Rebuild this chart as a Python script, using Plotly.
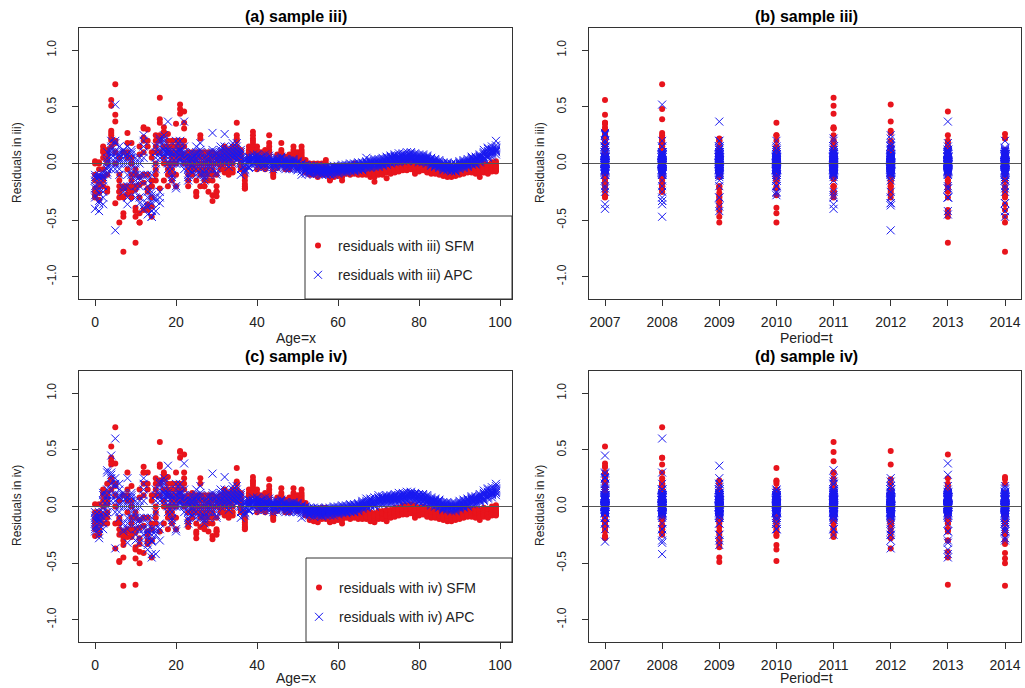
import plotly.graph_objects as go

# ---------------- data ----------------
ages = list(range(100))
years = [2007, 2008, 2009, 2010, 2011, 2012, 2013, 2014]
age_ticks = [0, 20, 40, 60, 80, 100]
res_ticks = [-1.0, -0.5, 0.0, 0.5, 1.0]
res_tick_text = ["-1.0", "-0.5", "0.0", "0.5", "1.0"]

# residuals[age][year]  (years 2007..2014)
sfm_iii = [
 [.02,-.15,-.30,-.22,-.10,-.25,.00,-.28],
 [-.20,.00,-.32,-.12,-.26,-.05,-.18,.01],
 [.15,.10,-.12,-.15,.05,-.20,.12,-.05],
 [.10,-.22,.02,.12,-.25,.05,-.10,.00],
 [.56,.27,.20,.15,.51,.29,.25,.22],
 [.43,.70,-.35,.20,.10,.37,.18,.00],
 [-.30,-.25,-.20,-.52,-.25,.05,-.15,-.10],
 [-.29,-.22,-.47,-.44,-.20,.10,-.30,-.78],
 [.27,.18,-.22,-.05,.10,-.27,-.20,.05],
 [-.20,.18,.00,-.10,-.30,-.15,.05,-.25],
 [-.10,-.05,-.42,-.39,-.20,-.23,-.70,-.47],
 [-.19,-.12,-.52,.15,.08,-.30,-.44,-.52],
 [.32,.23,.20,-.10,.31,-.17,.10,-.41],
 [.30,.20,-.10,-.22,-.25,.15,-.41,-.36],
 [-.15,-.20,-.38,.05,.10,-.20,-.47,-.30],
 [.25,.20,.10,-.05,-.10,.00,.15,-.15],
 [.36,.39,.22,.25,.58,.20,.10,-.22],
 [.28,.25,.15,.00,.32,.27,-.15,.05],
 [.15,.00,-.10,-.20,.20,.10,-.05,.26],
 [.20,.10,-.10,-.05,.00,.15,.05,-.15],
 [.35,.15,.05,-.10,.20,.00,.10,-.20],
 [.15,.48,.10,.05,.44,.52,.20,.10],
 [.36,.20,.08,.00,.31,.15,.46,.05],
 [-.20,.10,.00,.05,-.10,-.05,.08,-.15],
 [.05,-.05,.10,.00,-.10,.02,-.02,.08],
 [-.29,-.25,-.26,-.15,-.05,.10,.05,.00],
 [.25,.22,.10,-.10,-.20,.00,.05,-.05],
 [-.20,-.20,.00,.10,-.10,.05,-.05,-.15],
 [.10,.05,-.10,-.15,-.25,.00,-.05,.02],
 [-.15,-.10,-.33,-.28,.05,.10,.00,-.05],
 [-.25,-.20,-.29,.05,.00,.08,-.25,-.10],
 [.05,.00,-.05,.10,.08,-.02,.03,.06],
 [.10,.05,.00,-.08,.15,.12,-.05,.02],
 [.05,-.10,.08,.00,.12,-.05,.10,.03],
 [-.05,.10,.05,.12,-.08,.00,.15,.08],
 [.20,.15,.10,.36,.25,.12,.05,.22],
 [.05,.10,-.05,.00,.08,.12,.02,-.03],
 [-.22,-.18,-.20,-.10,-.05,-.15,-.22,-.12],
 [.10,.15,.05,.12,.08,.02,.10,.06],
 [.28,.22,.20,.25,.18,.15,.10,.12],
 [.15,.10,.05,.12,.08,.00,.02,-.05],
 [.05,.08,.00,-.03,.10,.04,-.02,.06],
 [.10,.05,.00,-.05,.08,.12,.03,-.02],
 [.25,.18,.12,.08,.15,.05,.02,.10],
 [-.12,-.10,-.05,-.08,.00,-.03,-.06,.02],
 [.05,.03,-.02,.08,.00,-.04,.06,.02],
 [.18,.12,.08,.05,.10,.02,.00,.04],
 [.00,-.05,.03,.06,-.02,.04,-.03,.01],
 [.08,.02,-.03,.05,.00,-.05,.03,.06],
 [.15,.10,.06,.12,.08,.03,.05,.00],
 [.05,.00,-.02,.08,.10,.03,-.04,.06],
 [.15,.12,.08,.05,.10,.06,.03,.00],
 [.00,-.05,-.08,-.02,.03,-.06,-.03,.01],
 [-.05,-.08,-.10,-.03,.00,-.06,-.04,-.02],
 [-.03,-.06,.00,-.08,-.04,-.10,-.02,-.05],
 [.00,-.05,-.10,-.08,-.03,-.12,-.06,-.02],
 [-.02,-.06,-.04,-.10,-.08,-.03,-.05,.00],
 [.03,-.04,-.08,-.06,-.10,-.02,-.05,.00],
 [-.15,-.12,-.10,-.08,-.14,-.06,-.11,-.05],
 [-.05,-.08,-.10,-.03,-.06,-.12,-.04,-.02],
 [-.04,-.07,-.02,-.09,-.05,-.11,-.03,-.06],
 [-.15,-.12,-.08,-.10,-.05,-.03,-.07,-.09],
 [-.02,-.06,-.09,-.04,-.08,-.05,-.03,-.07],
 [-.05,-.08,-.04,-.06,-.10,-.03,-.07,-.02],
 [.00,-.04,-.07,-.03,-.06,-.09,-.05,-.02],
 [-.08,-.05,-.10,-.06,-.03,-.07,-.04,-.09],
 [-.03,-.06,-.04,-.08,-.05,-.02,-.07,-.10],
 [-.06,-.09,-.03,-.07,-.05,-.10,-.04,-.08],
 [-.10,-.07,-.05,-.08,-.12,-.06,-.09,-.04],
 [-.16,-.08,-.10,-.06,-.12,-.09,-.05,-.07],
 [-.05,-.08,-.03,-.10,-.06,-.09,-.07,-.04],
 [-.07,-.04,-.09,-.06,-.03,-.08,-.05,-.10],
 [-.03,-.06,-.08,-.13,-.05,-.04,-.07,-.02],
 [-.04,-.07,-.02,-.05,-.08,-.03,-.06,-.09],
 [-.02,-.05,-.03,-.07,-.04,.00,-.06,-.08],
 [-.03,.00,-.05,-.02,-.06,-.04,-.01,-.07],
 [.00,-.03,-.05,-.02,.02,-.04,-.06,-.01],
 [-.02,.02,-.04,-.01,-.05,.00,-.03,-.06],
 [.01,-.03,.03,-.02,-.04,.00,-.05,-.01],
 [-.04,.00,-.07,-.02,-.05,.02,-.03,-.09],
 [-.02,-.05,.00,-.03,-.06,-.01,-.04,-.07],
 [-.03,.01,-.05,-.02,-.04,.00,-.06,-.01],
 [-.05,-.02,-.07,-.04,.00,-.03,-.06,-.08],
 [-.06,-.03,-.08,-.05,-.02,-.07,-.04,-.09],
 [-.04,-.07,-.02,-.05,-.09,-.03,-.06,-.08],
 [-.08,-.05,-.10,-.06,-.03,-.09,-.07,-.04],
 [-.07,-.10,-.05,-.08,-.06,-.11,-.04,-.09],
 [-.09,-.06,-.11,-.08,-.05,-.10,-.07,-.12],
 [-.10,-.07,-.12,-.08,-.05,-.09,-.11,-.06],
 [-.06,-.09,-.04,-.08,-.11,-.05,-.07,-.10],
 [-.05,-.08,-.03,-.07,-.10,-.04,-.06,-.09],
 [-.04,-.07,-.02,-.06,-.09,-.03,-.05,-.08],
 [-.03,-.06,-.01,-.05,-.08,-.02,-.04,-.07],
 [-.05,-.02,-.07,-.04,-.01,-.06,-.03,-.08],
 [-.06,-.03,-.08,-.02,-.05,-.09,-.04,-.01],
 [-.04,-.07,-.02,-.12,-.05,-.03,-.06,-.08],
 [-.03,-.06,.00,-.04,-.08,-.02,-.05,-.07],
 [-.05,-.02,-.08,-.04,-.07,-.01,-.06,-.09],
 [-.02,-.05,.01,-.03,-.06,-.04,-.01,-.07],
 [-.04,.00,-.06,-.02,-.05,.02,-.03,-.07],
]

apc_iii = [
 [-.40,-.10,-.30,-.20,-.28,-.12,-.22,-.15],
 [-.22,-.33,-.12,-.26,-.15,-.35,-.10,-.42],
 [-.36,-.15,-.20,-.10,-.25,-.08,-.30,-.12],
 [.00,-.10,.05,-.05,.02,-.08,.10,-.03],
 [.15,.10,.05,.20,-.05,.00,.12,.08],
 [.18,.52,.10,-.05,.00,-.59,.05,.20],
 [.00,.05,-.10,.08,.15,-.05,.10,.02],
 [.10,-.20,.05,-.25,.00,.12,-.22,.08],
 [.15,-.36,.08,-.10,-.30,.05,-.20,.00],
 [.05,.10,-.15,.00,.08,-.10,.12,-.05],
 [-.10,-.05,-.30,-.15,.05,-.25,.00,-.20],
 [-.15,-.10,.05,-.20,-.12,.00,-.30,-.35],
 [.25,.20,.15,.10,-.40,-.37,.05,-.10],
 [-.20,-.30,-.38,-.10,-.36,-.15,-.45,-.25],
 [-.25,-.47,-.42,-.28,-.10,-.35,-.42,-.47],
 [.05,-.33,.10,-.05,.15,-.30,.00,-.42],
 [.10,-.25,.20,.15,.05,.22,-.30,-.35],
 [.20,.15,.10,.05,.22,.25,.12,.08],
 [.10,.05,.37,.00,.15,-.05,.08,.12],
 [-.10,.05,.00,-.15,.10,-.05,.08,-.12],
 [.20,.10,.05,-.20,.15,.00,.10,-.22],
 [.10,.05,.15,.00,.20,.08,.12,.03],
 [.05,.00,.10,-.05,.08,.15,.37,.02],
 [-.10,.05,.00,-.12,.08,-.05,.03,-.15],
 [.00,-.05,.10,.03,-.08,.05,-.02,.08],
 [.05,.10,-.05,.00,.15,.08,-.10,.03],
 [.18,.10,.05,-.05,.00,.12,.08,-.10],
 [-.10,-.05,.00,-.15,.05,-.08,.02,-.12],
 [.00,.05,-.10,.08,-.05,.03,.10,-.02],
 [.27,.10,.05,.00,.08,-.05,.12,.02],
 [-.05,.00,.08,-.10,.03,.05,-.08,.10],
 [.10,.05,.12,.00,.08,.15,.03,.06],
 [.26,.10,.05,.12,.08,.00,.15,.03],
 [.05,.10,.00,.08,.12,.03,.06,-.03],
 [.15,.08,.12,.05,.10,.18,.00,.06],
 [.10,.15,.05,.12,.08,.03,.18,.06],
 [.02,.08,-.05,.05,.12,.00,.10,-.10],
 [.00,-.05,.03,-.08,.05,-.02,.02,-.06],
 [.02,.05,-.03,.00,.06,-.04,.03,.01],
 [.05,.00,.08,.03,-.02,.06,.01,.04],
 [.04,.07,.00,.03,-.03,.05,.02,.08],
 [.03,-.02,.05,.00,.06,-.04,.02,.01],
 [.06,.02,-.03,.04,.00,.08,-.01,.03],
 [.02,.05,.00,-.04,.03,.07,.01,-.02],
 [.00,-.03,.04,.02,-.05,.01,.03,-.01],
 [.03,.00,-.04,.05,.02,-.02,.04,.01],
 [.01,.04,-.02,.00,.06,-.03,.02,.05],
 [.00,-.03,.03,.01,-.05,.02,-.01,.04],
 [-.02,.01,-.04,.03,.00,-.05,.02,-.01],
 [.01,-.03,.02,-.05,.00,.03,-.02,.04],
 [-.03,.00,-.05,.02,-.02,-.06,.01,-.04],
 [-.05,-.02,-.10,.00,-.04,-.07,-.01,-.03],
 [-.04,-.07,-.02,-.05,-.09,-.03,-.06,-.01],
 [-.06,-.03,-.08,-.05,-.02,-.07,-.04,-.09],
 [-.05,-.08,-.03,-.06,-.10,-.04,-.07,-.02],
 [-.07,-.04,-.09,-.05,-.02,-.08,-.06,-.03],
 [-.06,-.09,-.04,-.07,-.05,-.10,-.03,-.08],
 [-.08,-.05,-.10,-.06,-.03,-.09,-.07,-.04],
 [-.07,-.10,-.05,-.08,-.06,-.04,-.09,-.03],
 [-.06,-.03,-.08,-.05,-.10,-.07,-.04,-.02],
 [-.05,-.08,-.03,-.06,-.09,-.04,-.07,-.02],
 [-.04,-.07,-.02,-.05,-.08,-.03,-.06,-.01],
 [-.05,-.02,-.07,-.04,-.01,-.06,-.03,-.08],
 [-.03,-.06,-.01,-.04,-.07,-.02,-.05,.00],
 [-.04,-.01,-.06,-.03,.00,-.05,-.02,-.07],
 [-.02,-.05,.00,-.03,-.06,-.01,-.04,.01],
 [-.03,.00,-.05,-.02,.01,-.04,-.01,-.06],
 [.00,-.03,.02,-.01,-.04,.05,-.02,.01],
 [-.02,.01,-.04,.00,.03,-.03,.02,-.01],
 [.01,-.02,.03,.00,-.03,.02,-.01,.04],
 [.00,.03,-.02,.01,.04,-.01,.02,-.03],
 [.02,-.01,.04,.01,-.02,.03,.00,.05],
 [.03,.00,.05,.02,-.01,.04,.01,.06],
 [.04,.01,.06,.03,.00,.05,.02,.07],
 [.05,.02,.07,.04,.01,.06,.03,.08],
 [.04,.07,.02,.06,.09,.03,.05,.01],
 [.06,.03,.08,.05,.02,.07,.04,.09],
 [.05,.08,.03,.07,.10,.04,.06,.02],
 [.07,.04,.09,.06,.03,.08,.05,.10],
 [.06,.09,.04,.07,.02,.08,.05,.03],
 [.05,.02,.07,.04,.08,.03,.06,.01],
 [.04,.07,.02,.05,.01,.06,.03,.08],
 [.03,.06,.01,.04,.07,.00,.05,.02],
 [.02,-.01,.04,.01,.05,-.02,.03,.00],
 [.01,-.02,.03,.00,-.03,.02,-.01,.04],
 [-.01,.02,-.03,.00,-.04,.01,-.02,.03],
 [-.02,-.05,.00,-.03,.01,-.04,-.01,-.06],
 [-.03,.00,-.05,-.02,-.06,-.01,-.04,.01],
 [-.04,-.01,-.06,-.03,-.07,-.02,-.05,.00],
 [-.03,-.06,-.01,-.04,.00,-.05,-.02,-.07],
 [-.02,.01,-.04,-.01,-.05,.00,-.03,.02],
 [.00,-.03,.02,-.01,.03,-.02,.01,-.04],
 [.01,-.02,.03,.00,.04,-.01,.02,-.03],
 [.02,.05,.00,.03,-.01,.04,.01,.06],
 [.03,.00,.05,.02,.06,.01,.04,-.01],
 [.05,.02,.07,.04,.08,.03,.06,.01],
 [.08,.05,.10,.06,.12,.04,.09,.03],
 [.10,.07,.13,.08,.05,.11,.06,.14],
 [.12,.08,.15,.10,.06,.13,.09,.11],
 [.14,.10,.20,.12,.08,.16,.11,.13],
]

sfm_iv = [
 [-.26,-.10,-.05,-.18,.02,-.15,-.20,-.12],
 [-.20,.02,-.12,-.25,-.08,-.15,-.05,-.22],
 [.15,.10,-.10,.00,.05,-.15,.12,-.08],
 [.10,.20,-.05,.12,-.15,.05,.02,-.10],
 [.53,.43,.22,.15,.40,.37,.25,.24],
 [.38,.70,-.15,.20,.10,-.37,.18,.00],
 [-.12,-.25,-.49,-.48,-.20,.05,-.15,-.10],
 [-.27,-.22,-.45,-.34,-.25,.10,-.30,-.70],
 [.30,.15,-.22,-.05,.10,-.27,-.20,.05],
 [-.20,.18,.00,-.10,-.27,-.15,.05,-.25],
 [-.10,-.05,-.36,-.38,-.20,-.23,-.69,-.46],
 [-.19,-.12,-.33,.15,.08,-.28,-.40,-.50],
 [.35,.30,.20,-.10,.30,-.17,.10,-.41],
 [.30,.20,-.10,-.22,-.25,.15,-.30,-.33],
 [-.15,-.20,-.30,.05,.10,-.20,-.45,-.30],
 [.25,.20,.10,-.05,-.10,.00,.15,-.15],
 [.35,.37,.23,.22,.57,.20,.10,-.22],
 [.28,.25,.15,.00,.30,.24,-.15,.05],
 [.15,.00,-.10,-.20,.20,.10,-.05,.26],
 [.20,.10,-.10,-.05,.00,.15,.05,-.15],
 [.30,.15,.05,-.10,.20,.00,.10,-.20],
 [.15,.43,.10,.05,.48,.49,.20,.10],
 [.30,.20,.08,.00,.25,.15,.46,.05],
 [-.18,.10,.02,.05,-.12,-.05,.08,-.15],
 [.05,-.05,.12,.00,-.10,.02,-.02,.08],
 [-.28,-.24,-.22,-.15,-.05,.10,.05,.00],
 [.25,.20,.10,-.10,-.18,.00,.05,-.05],
 [-.20,-.18,.00,.10,-.10,.05,-.05,-.15],
 [.10,.05,-.10,-.15,-.22,.00,-.05,.02],
 [-.15,-.10,-.29,-.26,.05,.10,.00,-.05],
 [-.22,-.20,-.25,.05,.00,.08,-.22,-.10],
 [.05,.00,-.05,.10,.08,-.02,.03,.06],
 [.10,.05,.00,-.08,.15,.12,-.05,.02],
 [.05,-.10,.08,.00,.12,-.05,.10,.03],
 [-.05,.10,.05,.12,-.08,.00,.15,.08],
 [.20,.15,.10,.34,.22,.12,.05,.20],
 [.05,.10,-.05,.00,.08,.12,.02,-.03],
 [-.19,-.16,-.18,-.10,-.05,-.14,-.20,-.12],
 [.10,.15,.05,.12,.08,.02,.10,.06],
 [.26,.22,.20,.23,.18,.15,.10,.12],
 [.15,.10,.05,.12,.08,.00,.02,-.05],
 [.05,.08,.00,-.03,.10,.04,-.02,.06],
 [.10,.05,.00,-.05,.08,.12,.03,-.02],
 [.24,.18,.12,.08,.15,.05,.02,.10],
 [-.12,-.10,-.05,-.08,.00,-.03,-.06,.02],
 [.05,.03,-.02,.08,.00,-.04,.06,.02],
 [.16,.12,.08,.05,.10,.02,.00,.04],
 [.00,-.05,.03,.06,-.02,.04,-.03,.01],
 [.08,.02,-.03,.05,.00,-.05,.03,.06],
 [.16,.10,.06,.12,.08,.03,.05,.00],
 [.05,.00,-.02,.08,.10,.03,-.04,.06],
 [.15,.12,.08,.05,.10,.06,.03,.00],
 [.00,-.05,-.08,-.02,.03,-.06,-.03,.01],
 [-.06,-.09,-.12,-.04,-.02,-.07,-.05,-.03],
 [-.04,-.07,-.02,-.09,-.05,-.13,-.03,-.06],
 [-.02,-.06,-.11,-.09,-.04,-.14,-.07,-.03],
 [-.03,-.07,-.05,-.11,-.09,-.04,-.06,-.01],
 [-.02,-.05,-.09,-.07,-.11,-.03,-.06,-.01],
 [-.14,-.12,-.10,-.08,-.13,-.06,-.11,-.05],
 [-.06,-.09,-.11,-.04,-.07,-.13,-.05,-.03],
 [-.05,-.08,-.03,-.10,-.06,-.12,-.04,-.07],
 [-.15,-.12,-.09,-.10,-.06,-.04,-.08,-.10],
 [-.03,-.07,-.10,-.05,-.09,-.06,-.04,-.08],
 [-.06,-.09,-.05,-.07,-.11,-.04,-.08,-.03],
 [-.02,-.05,-.08,-.04,-.07,-.10,-.06,-.03],
 [-.09,-.06,-.11,-.07,-.04,-.08,-.05,-.10],
 [-.04,-.07,-.05,-.09,-.06,-.03,-.08,-.11],
 [-.07,-.10,-.04,-.08,-.06,-.11,-.05,-.09],
 [-.11,-.08,-.06,-.09,-.13,-.07,-.10,-.05],
 [-.14,-.09,-.11,-.07,-.12,-.10,-.06,-.08],
 [-.06,-.09,-.04,-.11,-.07,-.10,-.08,-.05],
 [-.08,-.05,-.10,-.07,-.04,-.09,-.06,-.11],
 [-.04,-.07,-.09,-.13,-.06,-.05,-.08,-.03],
 [-.05,-.08,-.03,-.06,-.09,-.04,-.07,-.10],
 [-.03,-.06,-.04,-.08,-.05,-.01,-.07,-.09],
 [-.04,-.01,-.06,-.03,-.07,-.05,-.02,-.08],
 [-.01,-.04,-.06,-.03,.01,-.05,-.07,-.02],
 [-.03,.01,-.05,-.02,-.06,-.01,-.04,-.07],
 [.00,-.04,.02,-.03,-.05,-.01,-.06,-.02],
 [-.05,-.01,-.08,-.03,-.06,.01,-.04,-.10],
 [-.03,-.06,-.01,-.04,-.07,-.02,-.05,-.08],
 [-.04,.00,-.06,-.03,-.05,-.01,-.07,-.02],
 [-.06,-.03,-.08,-.05,-.01,-.04,-.07,-.09],
 [-.07,-.04,-.09,-.06,-.03,-.08,-.05,-.10],
 [-.05,-.08,-.03,-.06,-.10,-.04,-.07,-.09],
 [-.09,-.06,-.11,-.07,-.04,-.10,-.08,-.05],
 [-.08,-.11,-.06,-.09,-.07,-.12,-.05,-.10],
 [-.10,-.07,-.12,-.09,-.06,-.11,-.08,-.13],
 [-.11,-.08,-.13,-.09,-.06,-.10,-.12,-.07],
 [-.07,-.10,-.05,-.09,-.12,-.06,-.08,-.11],
 [-.06,-.09,-.04,-.08,-.11,-.05,-.07,-.10],
 [-.05,-.08,-.03,-.07,-.10,-.04,-.06,-.09],
 [-.04,-.07,-.02,-.06,-.09,-.03,-.05,-.08],
 [-.06,-.03,-.08,-.05,-.02,-.07,-.04,-.09],
 [-.07,-.04,-.09,-.03,-.06,-.10,-.05,-.02],
 [-.05,-.08,-.03,-.12,-.06,-.04,-.07,-.09],
 [-.04,-.07,-.01,-.05,-.09,-.03,-.06,-.08],
 [-.06,-.03,-.09,-.05,-.08,-.02,-.07,-.10],
 [-.03,-.06,.00,-.04,-.07,-.05,-.02,-.08],
 [-.05,-.01,-.07,-.03,-.06,.01,-.04,-.08],
]

apc_iv = [
 [-.10,-.20,-.15,-.05,-.12,-.08,-.22,-.18],
 [-.15,-.05,-.25,-.10,-.20,-.12,-.08,-.28],
 [.10,-.15,.05,-.05,.12,-.20,.00,-.10],
 [.30,.05,.15,-.05,.32,.00,.10,-.08],
 [.45,.30,.25,.10,.20,.15,.28,.05],
 [.20,.60,.10,-.05,.25,-.37,.05,.18],
 [.00,.15,-.10,.08,.20,-.05,.10,.02],
 [.10,-.20,.05,-.15,.00,.12,-.22,.08],
 [.25,-.32,.08,-.10,-.20,.05,-.15,.00],
 [.05,.10,-.15,.00,.08,-.10,.12,-.05],
 [-.10,-.05,-.30,-.15,.05,-.25,.00,-.20],
 [-.15,-.10,.05,-.20,-.12,.00,-.32,-.28],
 [.25,.20,.15,.10,-.20,-.25,.05,-.10],
 [-.20,-.30,-.34,-.10,-.25,-.15,-.38,-.22],
 [-.31,-.42,-.25,-.20,-.10,-.30,-.45,-.30],
 [.05,-.25,.10,-.05,.15,-.22,-.42,-.20],
 [.10,-.20,.20,.15,.05,.22,-.30,-.15],
 [.20,.15,.10,.05,.22,.25,.12,.08],
 [.10,.05,.36,.00,.15,-.05,.08,.12],
 [-.10,.05,.00,-.15,.10,-.05,.08,-.12],
 [.20,.10,.05,-.20,.15,.00,.10,-.22],
 [.10,.05,.15,.00,.20,.08,.12,.03],
 [.05,.00,.10,-.05,.08,.15,.38,.02],
 [-.10,.05,.00,-.12,.08,-.05,.03,-.15],
 [.00,-.05,.10,.03,-.08,.05,-.02,.08],
 [.05,.10,-.05,.00,.15,.08,-.10,.03],
 [.18,.10,.05,-.05,.00,.12,.08,-.10],
 [-.10,-.05,.00,-.15,.05,-.08,.02,-.12],
 [.00,.05,-.10,.08,-.05,.03,.10,-.02],
 [.29,.10,.05,.00,.08,-.05,.12,.02],
 [-.05,.00,.08,-.10,.03,.05,-.08,.10],
 [.10,.05,.12,.00,.08,.15,.03,.06],
 [.26,.10,.05,.12,.08,.00,.15,.03],
 [.05,.10,.00,.08,.12,.03,.06,-.03],
 [.15,.08,.12,.05,.10,.18,.00,.06],
 [.10,.15,.05,.12,.08,.03,.18,.06],
 [.02,.08,-.05,.05,.12,.00,.10,-.10],
 [.00,-.05,.03,-.08,.05,-.02,.02,-.06],
 [.02,.05,-.03,.00,.06,-.04,.03,.01],
 [.05,.00,.08,.03,-.02,.06,.01,.04],
 [.04,.07,.00,.03,-.03,.05,.02,.08],
 [.03,-.02,.05,.00,.06,-.04,.02,.01],
 [.06,.02,-.03,.04,.00,.08,-.01,.03],
 [.02,.05,.00,-.04,.03,.07,.01,-.02],
 [.00,-.03,.04,.02,-.05,.01,.03,-.01],
 [.03,.00,-.04,.05,.02,-.02,.04,.01],
 [.01,.04,-.02,.00,.06,-.03,.02,.05],
 [.00,-.03,.03,.01,-.05,.02,-.01,.04],
 [-.02,.01,-.04,.03,.00,-.05,.02,-.01],
 [.01,-.03,.02,-.05,.00,.03,-.02,.04],
 [-.02,.01,-.04,.03,-.01,-.05,.02,-.03],
 [-.04,-.01,-.10,.01,-.03,-.06,.00,-.02],
 [-.03,-.06,-.01,-.04,-.08,-.02,-.05,.00],
 [-.05,-.02,-.07,-.04,-.01,-.06,-.03,-.08],
 [-.04,-.07,-.02,-.05,-.09,-.03,-.06,-.01],
 [-.06,-.03,-.08,-.04,-.01,-.07,-.05,-.02],
 [-.05,-.08,-.03,-.06,-.04,-.09,-.02,-.07],
 [-.06,-.03,-.08,-.04,-.01,-.07,-.05,-.02],
 [-.05,-.08,-.03,-.06,-.04,-.02,-.07,-.01],
 [-.04,-.01,-.06,-.03,-.08,-.05,-.02,.00],
 [-.03,-.06,-.01,-.04,-.07,-.02,-.05,.00],
 [-.02,-.05,.00,-.03,-.06,-.01,-.04,.01],
 [-.03,.00,-.05,-.02,.01,-.04,-.01,-.06],
 [-.01,-.04,.01,-.02,-.05,.00,-.03,.02],
 [-.02,.01,-.04,-.01,.02,-.03,.00,-.05],
 [.00,-.03,.02,-.01,-.04,.01,-.02,.03],
 [.01,.04,-.01,.02,.05,.00,.03,-.02],
 [.03,.00,.05,.02,-.01,.07,.01,.04],
 [.02,.05,.00,.04,.07,.01,.06,.03],
 [.04,.01,.06,.03,.00,.05,.02,.08],
 [.05,.08,.03,.06,.10,.04,.07,.02],
 [.06,.03,.08,.05,.02,.07,.04,.09],
 [.07,.04,.09,.06,.03,.08,.05,.10],
 [.06,.09,.04,.07,.10,.05,.08,.03],
 [.08,.05,.10,.07,.04,.09,.06,.11],
 [.07,.10,.05,.09,.12,.06,.08,.04],
 [.09,.06,.11,.08,.05,.10,.07,.12],
 [.08,.11,.06,.10,.13,.07,.09,.05],
 [.10,.07,.12,.09,.06,.11,.08,.13],
 [.09,.12,.07,.10,.05,.11,.08,.06],
 [.08,.05,.10,.07,.11,.06,.09,.04],
 [.07,.10,.05,.08,.04,.09,.06,.11],
 [.06,.09,.04,.07,.10,.03,.08,.05],
 [.05,.02,.07,.04,.08,.01,.06,.03],
 [.04,.01,.06,.03,.00,.05,.02,.07],
 [.02,.05,.00,.03,-.01,.04,.01,.06],
 [.01,-.02,.03,.00,.04,-.01,.02,-.03],
 [.00,.03,-.02,.01,-.03,.02,-.01,.04],
 [-.01,.02,-.03,.00,-.04,.01,-.02,.03],
 [.00,-.03,.02,-.01,.03,-.02,.01,-.04],
 [.01,.04,-.01,.02,-.02,.03,.00,.05],
 [.03,.00,.05,.02,.06,.01,.04,-.01],
 [.04,.01,.06,.03,.07,.02,.05,.00],
 [.05,.08,.03,.06,.02,.07,.04,.09],
 [.06,.03,.08,.05,.09,.04,.07,.02],
 [.08,.05,.10,.07,.11,.06,.09,.04],
 [.10,.07,.12,.08,.14,.06,.11,.05],
 [.12,.09,.15,.10,.07,.13,.08,.16],
 [.14,.10,.17,.12,.08,.15,.11,.13],
 [.16,.12,.20,.14,.10,.18,.13,.15],
]

# ---------------- layout helpers ----------------
W, H = 1025, 688
FONT = "Liberation Sans, Arial, Helvetica, sans-serif"
RED = "#e8141c"
BLUE = "#1818f0"
TXT = "#222222"


def fx(p):
    return p / W


def fy(p):
    return 1 - p / H


def by_age(mat):
    xs, ys = [], []
    for a, row in zip(ages, mat):
        for v in row:
            xs.append(a)
            ys.append(v)
    return xs, ys


def by_year(mat):
    xs, ys = [], []
    for row in mat:
        for yr, v in zip(years, row):
            xs.append(yr)
            ys.append(v)
    return xs, ys


fig = go.Figure()

panels = [
    (sfm_iii, apc_iii, by_age, "x", "y", "legend", "iii)"),
    (sfm_iii, apc_iii, by_year, "x2", "y2", None, "iii)"),
    (sfm_iv, apc_iv, by_age, "x3", "y3", "legend2", "iv)"),
    (sfm_iv, apc_iv, by_year, "x4", "y4", None, "iv)"),
]

for sfm, apc, grp, xa, ya, leg, tag in panels:
    sx, sy = grp(sfm)
    ax, ay = grp(apc)
    fig.add_trace(go.Scatter(
        x=sx, y=sy, mode="markers", xaxis=xa, yaxis=ya,
        name=f"residuals with {tag} SFM",
        marker=dict(symbol="circle", size=6, color=RED, line=dict(width=0)),
        showlegend=leg is not None, legend=leg or "legend",
        legendgroup=f"sfm{xa}",
    ))
    fig.add_trace(go.Scatter(
        x=ax, y=ay, mode="markers", xaxis=xa, yaxis=ya,
        name=f"residuals with {tag} APC",
        marker=dict(symbol="x-thin", size=8, color=BLUE,
                    line=dict(width=1, color=BLUE)),
        showlegend=leg is not None, legend=leg or "legend",
        legendgroup=f"apc{xa}",
    ))

# plot-area boxes in pixels (left, right, top, bottom)
boxes = {
    "1": (79, 512, 28, 299),
    "2": (589, 1021, 28, 299),
    "3": (79, 512, 371, 642),
    "4": (589, 1021, 371, 642),
}

axis_common = dict(
    showline=True, linecolor="#333333", linewidth=1, mirror=True,
    ticks="outside", ticklen=6, tickwidth=1, tickcolor="#333333",
    showgrid=False, zeroline=False,
)

layout = dict(
    width=W, height=H, margin=dict(l=0, r=0, t=0, b=0),
    paper_bgcolor="white", plot_bgcolor="white",
    font=dict(family=FONT, color=TXT),
)

for k, (l, r, t, b) in boxes.items():
    sfx = "" if k == "1" else k
    is_age = k in ("1", "3")
    xax = dict(axis_common, domain=[fx(l), fx(r)], anchor="y" + sfx,
               tickfont=dict(size=14, family=FONT, color=TXT),
               ticklabelstandoff=4)
    if is_age:
        xax.update(range=[-3.96, 102.96], tickvals=age_ticks)
    else:
        xax.update(range=[2006.72, 2014.28], tickvals=years)
    yax = dict(axis_common, domain=[fy(b), fy(t)], anchor="x" + sfx,
               range=[-1.196, 1.196], tickvals=res_ticks, ticktext=res_tick_text,
               tickangle=-90, tickfont=dict(size=12, family=FONT, color=TXT),
               ticklabelstandoff=11)
    layout["xaxis" + sfx] = xax
    layout["yaxis" + sfx] = yax

fig.update_layout(**layout)

shapes = []
for k in boxes:
    sfx = "" if k == "1" else k
    shapes.append(dict(type="line", xref=f"x{sfx} domain", yref=f"y{sfx}",
                       x0=0, x1=1, y0=0, y1=0, layer="above",
                       line=dict(color="#555555", width=1)))

# legend frames
shapes.append(dict(type="rect", xref="paper", yref="paper",
                   x0=fx(305), x1=fx(512), y0=fy(299), y1=fy(216),
                   line=dict(color="#333333", width=1), fillcolor="white",
                   layer="above"))
shapes.append(dict(type="rect", xref="paper", yref="paper",
                   x0=fx(306), x1=fx(512), y0=fy(642), y1=fy(558),
                   line=dict(color="#333333", width=1), fillcolor="white",
                   layer="above"))
fig.update_layout(shapes=shapes)

leg_common = dict(
    xanchor="left", yanchor="top", bgcolor="rgba(0,0,0,0)", borderwidth=0,
    font=dict(size=14, family=FONT, color=TXT),
    traceorder="grouped", tracegroupgap=8, itemclick=False,
)
fig.update_layout(
    legend=dict(leg_common, x=fx(298), y=fy(230)),
    legend2=dict(leg_common, x=fx(299), y=fy(572)),
)

ann = []
titles = [
    ("(a) sample iii)", 296, 16), ("(b) sample iii)", 806, 16),
    ("(c) sample iv)", 296, 356), ("(d) sample iv)", 806, 356),
]
for txt, x, y in titles:
    ann.append(dict(text=f"<b>{txt}</b>", x=fx(x), y=fy(y), xref="paper",
                    yref="paper", showarrow=False, xanchor="center",
                    yanchor="middle", font=dict(size=16, family=FONT, color="black")))
xlabels = [("Age=x", 296, 338), ("Period=t", 806, 338),
           ("Age=x", 296, 678), ("Period=t", 806, 678)]
for txt, x, y in xlabels:
    ann.append(dict(text=txt, x=fx(x), y=fy(y), xref="paper", yref="paper",
                    showarrow=False, xanchor="center", yanchor="middle",
                    font=dict(size=14, family=FONT, color=TXT)))
ylabels = [("Residuals in iii)", 17, 163), ("Residuals in iii)", 540, 163),
           ("Residuals in iv)", 17, 506), ("Residuals in iv)", 540, 506)]
for txt, x, y in ylabels:
    ann.append(dict(text=txt, x=fx(x), y=fy(y), xref="paper", yref="paper",
                    showarrow=False, xanchor="center", yanchor="middle",
                    textangle=-90, font=dict(size=12, family=FONT, color=TXT)))
fig.update_layout(annotations=ann)

# remove the browser's default 8px page margin so the figure fills the window
fig.write_html(
    "out.html",
    config={"displayModeBar": False},
    post_script="document.body.style.margin='0px';"
                "document.body.style.overflow='hidden';",
)
